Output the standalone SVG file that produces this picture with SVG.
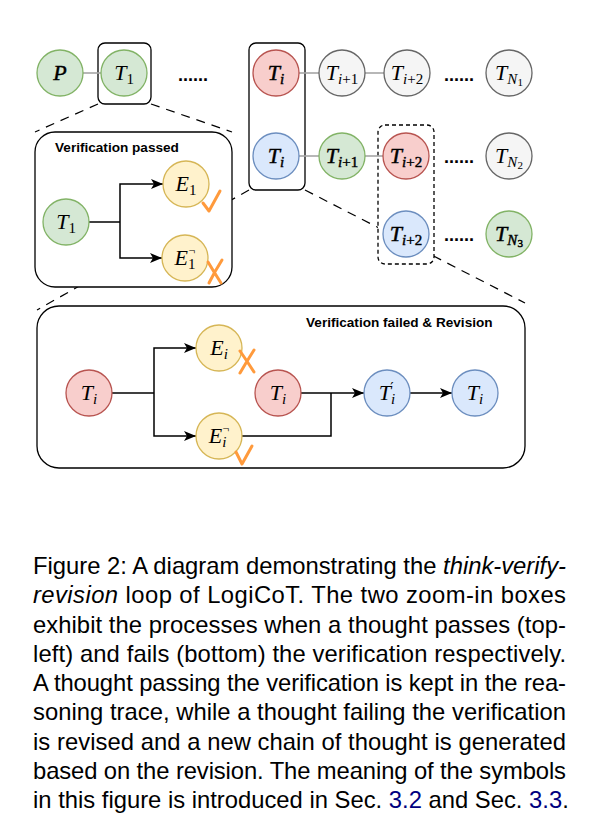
<svg xmlns="http://www.w3.org/2000/svg" width="591" height="824" viewBox="0 0 591 824">
<style>
  .g{fill:#d5e8d4;stroke:#82b366;stroke-width:1.3}
  .r{fill:#f8cecc;stroke:#b85450;stroke-width:1.3}
  .b{fill:#dae8fc;stroke:#6c8ebf;stroke-width:1.3}
  .n{fill:#f5f5f5;stroke:#666666;stroke-width:1.3}
  .y{fill:#fff2cc;stroke:#d6b656;stroke-width:1.3}
  .m{font-family:"Liberation Serif","DejaVu Serif",serif;font-style:italic;font-size:22px;fill:#000;text-anchor:middle}
  .bd{stroke:#000;stroke-width:0.45}
  .s{font-size:15px}
  .u{font-style:normal}
  .gl{stroke:#a6a6a6;stroke-width:1.6;fill:none}
  .k{stroke:#000;stroke-width:1.5;fill:none}
  .zl{stroke:#000;stroke-width:1.2;fill:none;stroke-dasharray:9 7}
  .box{fill:none;stroke:#000;stroke-width:1.3}
  .wbox{fill:#fff;stroke:#000;stroke-width:1.3}
  .dots{font-family:"Liberation Sans",Arial,sans-serif;font-weight:bold;font-size:18px;fill:#000}
  .title{font-family:"Liberation Sans",Arial,sans-serif;font-weight:bold;font-size:13.6px;fill:#000}
  .mark{stroke:#ff9a3c;stroke-width:3;fill:none;stroke-linecap:round;stroke-linejoin:round}
  .cap{font-family:"Liberation Sans",Arial,Helvetica,sans-serif;font-size:23.8px;fill:#000}
  .it{font-style:italic}
  .lnk{fill:#00007f}
</style>
<defs>
  <marker id="arr" viewBox="0 0 12 10" refX="12" refY="5" markerWidth="12" markerHeight="10" markerUnits="userSpaceOnUse" orient="auto">
    <path d="M0,0 L12,5 L0,10 L3,5 z" fill="#000"/>
  </marker>
</defs>
<rect width="591" height="824" fill="#fff"/>

<g id="zoom-lines">
  <line class="zl" x1="98" y1="104" x2="35" y2="132"/>
  <line class="zl" x1="151" y1="104" x2="232" y2="132"/>
  <line class="zl" x1="249" y1="190" x2="37" y2="310"/>
  <line class="zl" x1="305" y1="190" x2="525" y2="303"/>
</g>

<g id="box-T1"><rect class="box" x="98" y="43" width="53" height="61" rx="7"/></g>
<g id="box-Ti"><rect class="box" x="249" y="43" width="56" height="147" rx="7"/></g>
<g id="box-dashed"><rect class="wbox" x="378" y="125" width="56" height="139" rx="7" stroke-dasharray="4 3"/></g>
<g id="box-passed"><rect class="wbox" x="35" y="132" width="197" height="155" rx="20"/>
  <text class="title" x="55" y="152">Verification passed</text></g>
<g id="box-failed"><rect class="wbox" x="37" y="306" width="488" height="162" rx="22"/>
  <text class="title" x="306" y="327">Verification failed &amp; Revision</text></g>

<g id="connectors">
  <line class="gl" x1="83" y1="73" x2="101" y2="73"/>
  <line class="gl" x1="299" y1="73" x2="319" y2="73"/>
  <line class="gl" x1="365" y1="73" x2="384" y2="73"/>
  <line class="gl" x1="299" y1="156" x2="319" y2="156"/>
  <line class="gl" x1="365" y1="156" x2="383" y2="156"/>
  <polyline class="k" points="89,222 120,222"/>
  <polyline class="k" points="120,222 120,184 163,184" marker-end="url(#arr)"/>
  <polyline class="k" points="120,222 120,258 162,258" marker-end="url(#arr)"/>
  <polyline class="k" points="112,393 154,393"/>
  <polyline class="k" points="154,393 154,348 196,348" marker-end="url(#arr)"/>
  <polyline class="k" points="154,393 154,436 196,436" marker-end="url(#arr)"/>
  <polyline class="k" points="242,436 331,436 331,393"/>
  <line class="k" x1="300" y1="393" x2="364" y2="393" marker-end="url(#arr)"/>
  <line class="k" x1="410" y1="393" x2="452" y2="393" marker-end="url(#arr)"/>
</g>

<g id="dots">
  <text class="dots" x="178" y="81">......</text>
  <text class="dots" x="444" y="81">......</text>
  <text class="dots" x="444" y="163">......</text>
  <text class="dots" x="444" y="241">......</text>
</g>

<g id="node-P"><circle class="g" cx="60" cy="73" r="23"/><text class="m bd" x="60" y="80">P</text></g>
<g id="node-T1"><circle class="g" cx="124" cy="73" r="23"/><text class="m" x="124" y="80">T<tspan class="s u" dy="4">1</tspan></text></g>
<g id="node-Ti-top"><circle class="r" cx="276" cy="73" r="23"/><text class="m bd" x="276" y="80">T<tspan class="s" dy="4">i</tspan></text></g>
<g id="node-Ti1-top"><circle class="n" cx="342" cy="73" r="23"/><text class="m" x="342" y="80">T<tspan class="s" dy="4">i</tspan><tspan class="s u">+1</tspan></text></g>
<g id="node-Ti2-top"><circle class="n" cx="407" cy="73" r="23"/><text class="m" x="407" y="80">T<tspan class="s" dy="4">i</tspan><tspan class="s u">+2</tspan></text></g>
<g id="node-TN1"><circle class="n" cx="509" cy="73" r="23"/><text class="m" x="509" y="80">T<tspan class="s" dy="4">N</tspan><tspan class="u" font-size="11" dy="2">1</tspan></text></g>

<g id="node-Ti-row2"><circle class="b" cx="276" cy="156" r="23"/><text class="m bd" x="276" y="163">T<tspan class="s" dy="4">i</tspan></text></g>
<g id="node-Ti1-row2"><circle class="g" cx="342" cy="156" r="23"/><text class="m bd" x="342" y="163">T<tspan class="s" dy="4">i</tspan><tspan class="s u">+1</tspan></text></g>
<g id="node-Ti2-row2"><circle class="r" cx="406" cy="156" r="23"/><text class="m bd" x="406" y="163">T<tspan class="s" dy="4">i</tspan><tspan class="s u">+2</tspan></text></g>
<g id="node-TN2"><circle class="n" cx="509" cy="156" r="23"/><text class="m" x="509" y="163">T<tspan class="s" dy="4">N</tspan><tspan class="u" font-size="11" dy="2">2</tspan></text></g>
<g id="node-Ti2-row3"><circle class="b" cx="406" cy="234" r="23"/><text class="m bd" x="406" y="241">T<tspan class="s" dy="4">i</tspan><tspan class="s u">+2</tspan></text></g>
<g id="node-TN3"><circle class="g" cx="509" cy="234" r="23"/><text class="m bd" x="509" y="241">T<tspan class="s" dy="4">N</tspan><tspan class="u" font-size="11" dy="2">3</tspan></text></g>

<g id="node-T1-passed"><circle class="g" cx="66" cy="222" r="23"/><text class="m" x="66" y="229">T<tspan class="s u" dy="4">1</tspan></text></g>
<g id="node-E1"><circle class="y" cx="186" cy="184" r="23"/><text class="m" x="186" y="191">E<tspan class="s u" dy="4">1</tspan></text></g>
<g id="node-E1neg"><circle class="y" cx="185" cy="258" r="23"/><text class="m" x="185" y="265">E<tspan class="s u" dy="4">1</tspan><tspan class="u" font-size="12" dx="-7" dy="-14">¬</tspan></text></g>

<g id="node-Ti-failed"><circle class="r" cx="89" cy="393" r="23"/><text class="m" x="89" y="400">T<tspan class="s" dy="4">i</tspan></text></g>
<g id="node-Ei"><circle class="y" cx="219" cy="348" r="23"/><text class="m" x="219" y="355">E<tspan class="s" dy="4">i</tspan></text></g>
<g id="node-Eineg"><circle class="y" cx="219" cy="436" r="23"/><text class="m" x="219" y="443">E<tspan class="s" dy="4">i</tspan><tspan class="u" font-size="12" dx="-4" dy="-14">¬</tspan></text></g>
<g id="node-Ti-mid"><circle class="r" cx="278" cy="393" r="23"/><text class="m" x="278" y="400">T<tspan class="s" dy="4">i</tspan></text></g>
<g id="node-Ti-prime"><circle class="b" cx="387" cy="393" r="23"/><text class="m" x="387" y="400">T<tspan class="s" dy="4">i</tspan><tspan font-family="DejaVu Serif, serif" font-style="normal" font-size="15" dx="-5" dy="-11">′</tspan></text></g>
<g id="node-Ti-new"><circle class="b" cx="475" cy="393" r="23"/><text class="m" x="475" y="400">T<tspan class="s" dy="4">i</tspan></text></g>

<g id="marks">
  <polyline class="mark" points="203,203 209,211 220,191"/>
  <path class="mark" d="M208,262 Q214,272 221,283 M222,260 Q215,271 209,283"/>
  <path class="mark" d="M240,351 Q247,361 254,372 M254,350 Q247,361 240,373"/>
  <polyline class="mark" points="236,452 242,464 252,446"/>
</g>

<g id="caption">
  <text class="cap" x="33" y="574" textLength="533" lengthAdjust="spacing">Figure 2: A diagram demonstrating the <tspan class="it">think-verify-</tspan></text>
  <text class="cap" x="33" y="603.3" textLength="533" lengthAdjust="spacing"><tspan class="it">revision</tspan> loop of LogiCoT. The two zoom-in boxes</text>
  <text class="cap" x="33" y="632.5" textLength="533" lengthAdjust="spacing">exhibit the processes when a thought passes (top-</text>
  <text class="cap" x="33" y="661.8" textLength="533" lengthAdjust="spacing">left) and fails (bottom) the verification respectively.</text>
  <text class="cap" x="33" y="691" textLength="533" lengthAdjust="spacing">A thought passing the verification is kept in the rea-</text>
  <text class="cap" x="33" y="720.3" textLength="533" lengthAdjust="spacing">soning trace, while a thought failing the verification</text>
  <text class="cap" x="33" y="749.5" textLength="533" lengthAdjust="spacing">is revised and a new chain of thought is generated</text>
  <text class="cap" x="33" y="778.8" textLength="533" lengthAdjust="spacing">based on the revision. The meaning of the symbols</text>
  <text class="cap" x="33" y="808">in this figure is introduced in Sec. <tspan class="lnk">3.2</tspan> and Sec. <tspan class="lnk">3.3</tspan>.</text>
</g>
</svg>
